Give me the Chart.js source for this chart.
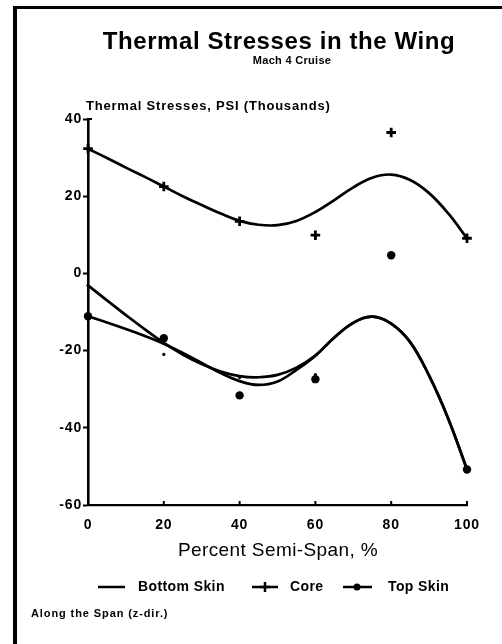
<!DOCTYPE html>
<html>
<head>
<meta charset="utf-8">
<script src="https://cdn.jsdelivr.net/npm/chart.js@4.4.1/dist/chart.umd.min.js"></script>
<style>
  html, body { margin: 0; padding: 0; background: #ffffff; }
  #wrap { width: 502px; height: 644px; position: relative; }
  canvas { display: block; }
</style>
</head>
<body>
<div id="wrap"><canvas id="chart" width="502" height="644"></canvas></div>
<script>
// Measured stresses (PSI, thousands) at stations along the semi-span
const spanPct = [0, 20, 40, 60, 80, 100];
const bottomSkin = [-3.1, -21.0, -27.0, -26.2, 4.7, -50.8];
const core = [32.3, 22.5, 13.5, 9.9, 36.5, 9.1];
const topSkin = [-11.1, -16.8, -31.6, -27.4, 4.7, -50.8];

// Smoothed trend curves, sampled every 5 % of span
const fitSpan = [0, 5, 10, 15, 20, 25, 30, 35, 40, 45, 50, 55, 60, 65, 70, 75, 80, 85, 90, 95, 100];
const bottomSkinFit = [-3.1, -7.0, -10.8, -14.5, -18.0, -21.0, -23.5, -25.4, -26.6, -26.9, -26.3, -24.4, -21.3, -16.6, -12.8, -11.2, -13.0, -17.8, -26.5, -37.5, -50.8];
const coreFit = [32.3, 29.9, 27.4, 25.0, 22.5, 20.0, 17.7, 15.5, 13.6, 12.6, 12.5, 13.6, 15.9, 19.0, 22.3, 24.8, 25.6, 24.2, 20.8, 15.6, 9.1];
const topSkinFit = [-11.1, -12.7, -14.4, -16.2, -18.2, -20.6, -23.2, -25.8, -27.9, -28.9, -28.0, -25.0, -21.3, -16.6, -12.8, -11.2, -13.0, -17.8, -26.5, -37.5, -50.8];

const xTicks = [0, 20, 40, 60, 80, 100];
const yTicks = [-60, -40, -20, 0, 20, 40];

const FONT = "'Liberation Sans', Arial, Helvetica, sans-serif";
const INK = '#000000';

const pts = (xs, ys) => xs.map((x, i) => ({ x: x, y: ys[i] }));

const curve = (label, ys) => ({
  label: label,
  data: pts(fitSpan, ys),
  showLine: true,
  borderColor: INK,
  borderWidth: 2.7,
  pointRadius: 0,
  tension: 0.4,
  fill: false,
  clip: false
});

const markers = (label, ys, style, radius, bw) => ({
  label: label,
  data: pts(spanPct, ys),
  showLine: false,
  pointStyle: style,
  pointRadius: radius,
  pointBorderWidth: bw,
  pointBackgroundColor: INK,
  pointBorderColor: INK,
  clip: false
});

const PAD = { left: 20, top: 119, right: 35, bottom: 0 };
const PLOT_LEFT = 88, PLOT_BOTTOM = 505;

function text(ctx, str, x, y, font, align, spacing) {
  ctx.save();
  ctx.font = font;
  ctx.letterSpacing = (spacing || 0) + 'px';
  ctx.fillStyle = INK;
  ctx.textAlign = align;
  ctx.textBaseline = 'middle';
  ctx.fillText(str, x, y);
  ctx.restore();
}

const decor = {
  id: 'decor',
  beforeDraw(chart) {
    const ctx = chart.ctx;
    ctx.save();
    ctx.fillStyle = '#ffffff';
    ctx.fillRect(0, 0, chart.width, chart.height);
    ctx.restore();
    ctx.letterSpacing = '0.8px';
  },
  afterDraw(chart) {
    const ctx = chart.ctx;
    const xs = chart.scales.x, ys = chart.scales.y;

    // page frame
    ctx.save();
    ctx.strokeStyle = INK;
    ctx.lineWidth = 4;
    ctx.beginPath();
    ctx.moveTo(15, 6); ctx.lineTo(15, chart.height);
    ctx.stroke();
    ctx.lineWidth = 3;
    ctx.beginPath();
    ctx.moveTo(13, 7.5); ctx.lineTo(chart.width, 7.5);
    ctx.stroke();

    // inward tick marks on the span axis
    ctx.lineWidth = 2;
    xTicks.forEach(v => {
      const px = xs.getPixelForValue(v);
      ctx.beginPath();
      ctx.moveTo(px, ys.bottom);
      ctx.lineTo(px, ys.bottom - 4);
      ctx.stroke();
    });
    // small hook at the top of the stress axis
    const yt = ys.getPixelForValue(40);
    ctx.beginPath();
    ctx.moveTo(xs.left, yt);
    ctx.lineTo(xs.left + 4, yt);
    ctx.stroke();
    ctx.restore();

    // titles
    text(ctx, 'Thermal Stresses in the Wing', 279, 42, 'bold 24px ' + FONT, 'center', 0.6);
    text(ctx, 'Mach 4 Cruise', 292, 61, 'bold 11px ' + FONT, 'center', 0.3);
    text(ctx, 'Thermal Stresses, PSI (Thousands)', 86, 106, 'bold 13px ' + FONT, 'left', 0.8);
    text(ctx, 'Percent Semi-Span, %', 278, 551, '19px ' + FONT, 'center', 0.4);

    // legend
    const ly = 587;
    const legFont = 'bold 14px ' + FONT;
    ctx.save();
    ctx.strokeStyle = INK;
    ctx.fillStyle = INK;
    ctx.lineWidth = 2.5;
    ctx.beginPath(); ctx.moveTo(98, ly); ctx.lineTo(125, ly); ctx.stroke();
    ctx.beginPath(); ctx.moveTo(252, ly); ctx.lineTo(278, ly); ctx.stroke();
    ctx.beginPath(); ctx.moveTo(343, ly); ctx.lineTo(372, ly); ctx.stroke();
    Chart.helpers.drawPoint(ctx, { pointStyle: 'cross', radius: 5, borderWidth: 2.5 }, 265, ly);
    ctx.beginPath(); ctx.arc(357, ly, 3.5, 0, Math.PI * 2); ctx.fill();
    ctx.restore();
    text(ctx, 'Bottom Skin', 138, ly, legFont, 'left', 0.4);
    text(ctx, 'Core', 290, ly, legFont, 'left', 0.4);
    text(ctx, 'Top Skin', 388, ly, legFont, 'left', 0.4);

    // footnote
    text(ctx, 'Along the Span (z-dir.)', 31, 614, 'bold 11px ' + FONT, 'left', 0.9);
  }
};

new Chart(document.getElementById('chart'), {
  type: 'scatter',
  data: {
    datasets: [
      curve('Bottom Skin fit', bottomSkinFit),
      curve('Core fit', coreFit),
      curve('Top Skin fit', topSkinFit),
      markers('Bottom Skin', bottomSkin, 'circle', 1.6, 0),
      markers('Core', core, 'cross', 4.8, 2.8),
      markers('Top Skin', topSkin, 'circle', 4.2, 0)
    ]
  },
  options: {
    responsive: false,
    animation: false,
    devicePixelRatio: 1,
    layout: { padding: PAD },
    plugins: {
      legend: { display: false },
      title: { display: false },
      tooltip: { enabled: false }
    },
    scales: {
      x: {
        type: 'linear',
        min: 0, max: 100,
        afterBuildTicks(s) { s.ticks = xTicks.map(v => ({ value: v })); },
        afterFit(s) {
          s.height = 644 - PLOT_BOTTOM - PAD.bottom;
          s.paddingLeft = 0; s.paddingRight = 0;
        },
        grid: { display: true, drawOnChartArea: false, drawTicks: false },
        border: { display: true, color: INK, width: 2.2 },
        ticks: {
          color: INK,
          padding: 12,
          maxRotation: 0,
          font: { family: FONT, size: 14, weight: 'bold' }
        }
      },
      y: {
        type: 'linear',
        min: -60, max: 40,
        afterBuildTicks(s) { s.ticks = yTicks.map(v => ({ value: v })); },
        afterFit(s) {
          s.width = PLOT_LEFT - PAD.left;
          s.paddingTop = 0; s.paddingBottom = 0;
        },
        grid: { display: true, drawOnChartArea: false, drawTicks: true, tickLength: 5, tickWidth: 2, tickColor: INK },
        border: { display: true, color: INK, width: 2.6 },
        ticks: {
          color: INK,
          padding: 1,
          font: { family: FONT, size: 14, weight: 'bold' }
        }
      }
    }
  },
  plugins: [decor]
});
</script>
</body>
</html>
